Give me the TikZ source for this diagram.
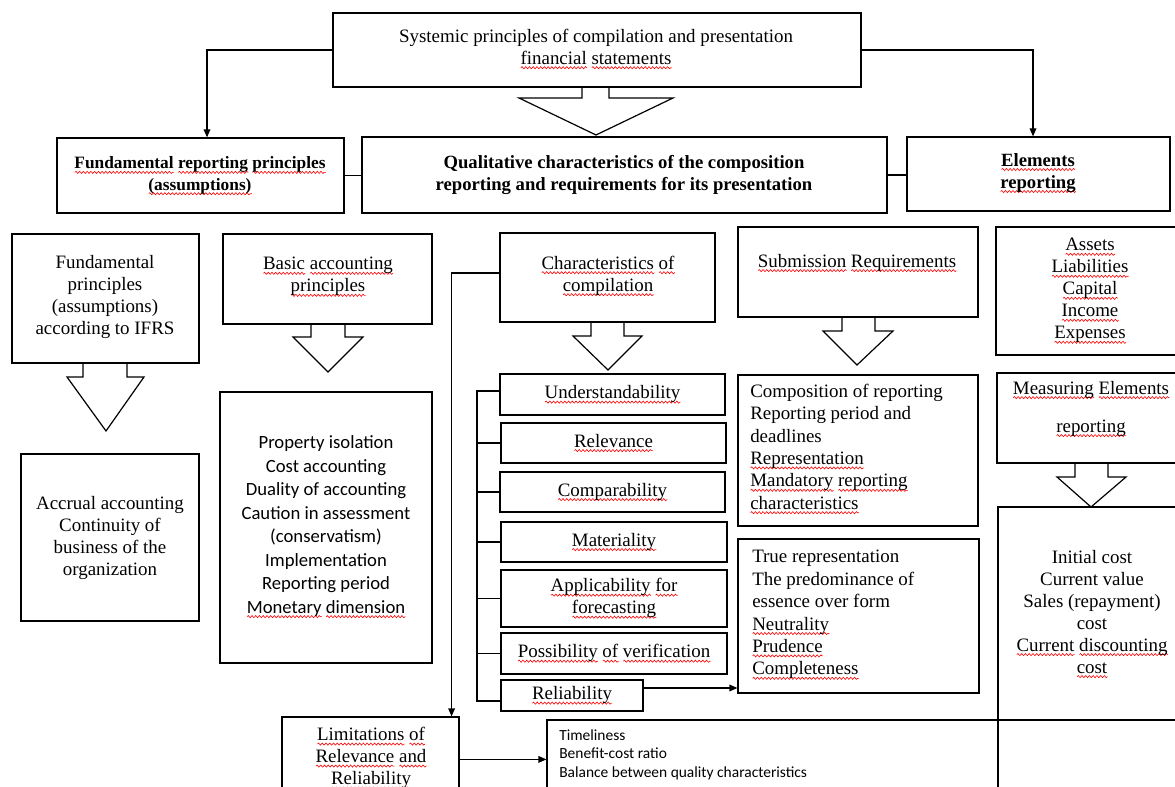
\documentclass[tikz,border=0pt]{standalone}
\usepackage{fontspec}
\setmainfont{Liberation Serif}
\newfontfamily\calfont{Carlito}
\usetikzlibrary{arrows.meta,fit,calc,decorations.pathmorphing}
\newsavebox\sqbox
\newcommand\sq[1]{\sbox\sqbox{#1}\edef\sqw{\the\wd\sqbox}\leavevmode\rlap{\tikz[baseline=0pt,x=1pt,y=1pt]\draw[red, line width=0.45pt, decorate, decoration={snake, amplitude=0.8pt, segment length=2.8pt}] (0pt,-2.6pt) -- (\sqw,-2.6pt);}\usebox\sqbox}
\tikzset{
  box/.style={draw, line width=0.9pt, inner sep=0pt},
  tm/.style={align=center, inner sep=0pt, font=\fontsize{14.2}{16.5}\selectfont},
  tml/.style={align=left, inner sep=0pt, font=\fontsize{14.2}{16.8}\selectfont},
  tmb/.style={align=center, inner sep=0pt, font=\bfseries\fontsize{14}{16.5}\selectfont},
  cal/.style={align=center, inner sep=0pt, font=\calfont\fontsize{14}{17.6}\selectfont},
  calsm/.style={align=left, inner sep=0pt, font=\calfont\fontsize{11.6}{13.9}\selectfont},
  conn/.style={line width=0.9pt},
  arr/.style={line width=0.9pt, -{Triangle[length=6pt,width=5pt]}},
  barr/.style={line width=0.9pt, line join=miter},
}
% node, shaft x1, shaft x2, shaft bottom y, wing x1, wing x2, tip
\newcommand\blockarr[7]{%
  \draw[barr] (#2,0 |- #1.south) -- (#2,#4) -- (#5,#4) -- (#7) -- (#6,#4) -- (#3,#4) -- (#3,0 |- #1.south);}
\begin{document}
\begin{tikzpicture}[x=0.75pt,y=-0.75pt]
\useasboundingbox (0,0) rectangle (1175,787);
\clip (0,0) rectangle (1175,787);
\fill[white] (0,0) rectangle (1175,787);

% ---- top level
\node[box, fit={(333,13) (861,87)}] (top) {};
\node[tm] (toptxt) at (596,49) {Systemic principles of compilation and presentation\\\sq{financial} \sq{statements}};

\node[box, fit={(57,138) (344,213)}] (fundhead) {};
\node[tmb, font=\bfseries\fontsize{13}{16}\selectfont] (fundheadtxt) at (200,176) {\sq{Fundamental} \sq{reporting} \sq{principles}\\\sq{(assumptions)}};

\node[box, fit={(362,137) (887,213)}] (qual) {};
\node[tmb] (qualtxt) at (624,175) {Qualitative characteristics of the composition\\reporting and requirements for its presentation};

\node[box, fit={(907,137) (1170,211)}] (elem) {};
\node[tmb] (elemtxt) at (1038,173) {\sq{Elements}\\\sq{reporting}};

% ---- left columns
\node[box, fit={(12,234) (199,363)}] (ifrs) {};
\node[tm] (ifrstxt) at (105,297) {Fundamental\\principles\\(assumptions)\\according to IFRS};

\node[box, fit={(21,454) (199,621)}] (accr) {};
\node[tm] (accrtxt) at (110,538) {Accrual accounting\\Continuity of\\business of the\\organization};

\node[box, fit={(223,234) (432,324)}] (basic) {};
\node[tm] (basictxt) at (328,277) {\sq{Basic} \sq{accounting}\\\sq{principles}};

\node[box, fit={(220,392) (432,663)}] (prop) {};
\node[cal] (proptxt) at (326,527) {Property isolation\\Cost accounting\\Duality of accounting\\Caution in assessment\\(conservatism)\\Implementation\\Reporting period\\\sq{Monetary} \sq{dimension}};

% ---- characteristics of compilation
\node[box, fit={(500,233) (715,322)}] (charc) {};
\node[tm] (charctxt) at (608,276) {\sq{Characteristics} \sq{of}\\\sq{compilation}};

\node[box, fit={(500,374) (725,415)}] (und) {};
\node[tm] (undtxt) at (und.center) {\sq{Understandability}};
\node[box, fit={(501,423) (726,463)}] (relev) {};
\node[tm] (relevtxt) at (relev.center) {\sq{Relevance}};
\node[box, fit={(500,472) (725,512)}] (compar) {};
\node[tm] (compartxt) at (compar.center) {\sq{Comparability}};
\node[box, fit={(501,522) (727,562)}] (mater) {};
\node[tm] (matertxt) at (mater.center) {\sq{Materiality}};
\node[box, fit={(501,570) (727,627)}] (applic) {};
\node[tm] (applictxt) at (applic.center) {\sq{Applicability} \sq{for}\\\sq{forecasting}};
\node[box, fit={(501,633) (727,674)}] (possib) {};
\node[tm] (possibtxt) at (possib.center) {\sq{Possibility} \sq{of} \sq{verification}};
\node[box, fit={(501,680) (643,711)}] (relia) {};
\node[tm] (reliatxt) at (relia.center) {\sq{Reliability}};

% ---- submission requirements
\node[box, fit={(738,227) (978,317)}] (subm) {};
\node[tm] (submtxt) at (857,263) {\sq{Submission} \sq{Requirements}};

\node[box, fit={(738,375) (978,526)}] (comp) {};
\node[tml, anchor=west] (comptxt) at (750,449) {Composition of reporting\\Reporting period and\\deadlines\\\sq{Representation}\\\sq{Mandatory} \sq{reporting}\\\sq{characteristics}};

\node[box, fit={(738,539) (979,693)}] (truer) {};
\node[tml, anchor=west] (truertxt) at (752,615) {True representation\\The predominance of\\essence over form\\\sq{Neutrality}\\\sq{Prudence}\\\sq{Completeness}};

% ---- elements column
\node[box, fit={(996,227) (1185,355)}] (assets) {};
\node[tm] (assetstxt) at (1090,291) {\sq{Assets}\\\sq{Liabilities}\\\sq{Capital}\\\sq{Income}\\\sq{Expenses}};

\node[box, fit={(997,373) (1185,463)}] (meas) {};
\node[tm] (meastxt) at (1091,409) {\sq{Measuring} \sq{Elements}\\[12pt]\sq{reporting}};

\node[box, fit={(998,507) (1185,720)}] (init) {};
\node[tm] (inittxt) at (1092,614) {Initial cost\\Current value\\Sales (repayment)\\cost\\\sq{Current} \sq{discounting}\\\sq{cost}};

\node[box, fit={(998,720) (1185,830)}] (extra) {};

% ---- bottom
\node[box, fit={(282,717) (459,830)}] (lim) {};
\node[tm, anchor=north] (limtxt) at (371,727) {\sq{Limitations} \sq{of}\\\sq{Relevance} \sq{and}\\\sq{Reliability}};

\node[box, fit={(547,720) (998,830)}] (timel) {};
\node[calsm, anchor=north west] (timeltxt) at (559,729) {Timeliness\\Benefit-cost ratio\\Balance between quality characteristics};

% ---- block arrows
\blockarr{top}{582}{609}{98}{519}{673}{596,135}
\blockarr{ifrs}{83}{127}{377}{67}{144}{106,431}
\blockarr{basic}{311}{345}{337}{293}{363}{328,372}
\blockarr{charc}{591}{624}{336}{573}{642}{608,370}
\blockarr{subm}{842}{875}{331}{823}{893}{857,365}
\blockarr{meas}{1075}{1108}{477}{1057}{1126}{1091,507}

% ---- connectors
\draw[arr] (top.west) -| ($(fundhead.north)+(6.5,0)$);
\draw[arr] (top.east) -| ($(elem.north)+(-5.5,0)$);
\draw[conn] (fundhead.east) -- (fundhead.east -| qual.west);
\draw[conn] (qual.east) -- (qual.east -| elem.west);
\draw[arr] ($(charc.west)+(0,-4.5)$) -| ($(lim.north east)+(-8,0)$);

\coordinate (brtop) at (477,391);
\coordinate (brbot) at (477,701);
\draw[conn] (brtop -| und.west) -- (brtop) -- (brbot) -- (brbot -| relia.west);
\foreach \n in {relev,compar,mater,applic,possib}
  \draw[conn] (\n.west) -- (brtop |- \n.west);

\coordinate (ra) at ($(relia.east)+(0,-7.5)$);
\draw[arr] (ra) -- (ra -| truer.west);
\coordinate (la) at ($(lim.north east)+(0,43)$);
\draw[arr] (la) -- (la -| timel.west);
\end{tikzpicture}
\end{document}
